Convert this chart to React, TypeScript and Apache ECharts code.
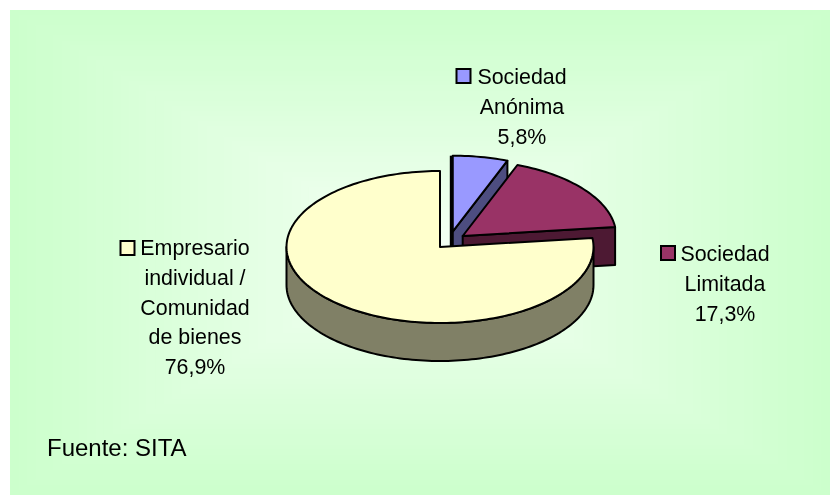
import React, { useEffect, useRef } from "react";
import * as echarts from "echarts";

const categories = ["Sociedad\nAnónima", "Sociedad\nLimitada", "Empresario\nindividual /\nComunidad\nde bienes"];
const values = [5.8, 17.3, 76.9];
const valueLabels = ["5,8%", "17,3%", "76,9%"];
const sourceNote = "Fuente: SITA";

const topColors = ["#9999ff", "#993366", "#ffffcc"];
const sideColors = ["#4d4d80", "#4d1933", "#808066"];
const pieCentres = [[452.7, 231.7], [462.7, 236], [440, 247]];
const labelCentres = [[522, 77], [725, 254], [195, 248]];
const keyBoxes = [[456.5, 69], [661, 246], [120.5, 241]];

const RX = 153.5, RY = 76, DEPTH = 38, LINE_H = 29.8, FONT = 21.4;
const FAMILY = '"Liberation Sans", Arial, sans-serif';

const W = 830, H = 495, PX = 10, PY = 10;

function backgroundRects() {
  const out: any[] = [];
  const steps = 48;
  const from = [204, 255, 204], to = [244, 255, 244];
  const cx = (PX + W) / 2, cy = (PY + H) / 2, hw = (W - PX) / 2, hh = (H - PY) / 2;
  for (let i = 0; i < steps; i++) {
    const k = 1 - i / steps;
    const t = i / (steps - 1);
    const c = from.map((a, j) => Math.round(a + (to[j] - a) * t));
    out.push({
      type: "rect", z: -10 + i * 0.01, silent: true,
      shape: { x: cx - hw * k, y: cy - hh * k, width: 2 * hw * k, height: 2 * hh * k },
      style: { fill: `rgb(${c.join(",")})` },
    });
  }
  return out;
}

function arcPoints(c: number[], a0: number, a1: number, dy: number) {
  const n = Math.max(2, Math.ceil(Math.abs(a1 - a0) / 1.5));
  const pts: number[][] = [];
  for (let i = 0; i <= n; i++) {
    const a = ((a0 + ((a1 - a0) * i) / n) * Math.PI) / 180;
    pts.push([c[0] + RX * Math.sin(a), c[1] - RY * Math.cos(a) + dy]);
  }
  return pts;
}

export default function App() {
  const ref = useRef<HTMLDivElement>(null);
  useEffect(() => {
    document.body.style.margin = "0";
    const chart = echarts.init(ref.current!, undefined, { renderer: "svg" });
    const total = values.reduce((a, b) => a + b, 0);
    const stroke = { stroke: "#000", lineWidth: 2, lineJoin: "round" as const };

    const renderItem = (params: any, api: any) => {
      const i = params.dataIndex;
      let before = 0;
      for (let k = 0; k < i; k++) before += values[k];
      const a0 = (before / total) * 360;
      const a1 = a0 + (api.value(0) / total) * 360;
      const c = pieCentres[i];
      const side = sideColors[i];
      const kids: any[] = [];

      // cut face along the slice's clockwise end (visible on the two back slices)
      if (i < 2) {
        const e = arcPoints(c, a1, a1, 0)[0];
        kids.push({
          type: "polygon",
          shape: { points: [c, e, [e[0], e[1] + DEPTH], [c[0], c[1] + DEPTH]] },
          style: { fill: side, ...stroke },
        });
      }
      // outer wall of the large slice (front half of the ellipse)
      if (i === 2) {
        const wallFrom = Math.max(a0, 90), wallTo = Math.min(a1, 270);
        const top = arcPoints(c, wallFrom, wallTo, 0);
        const bottom = arcPoints(c, wallTo, wallFrom, DEPTH);
        kids.push({ type: "polygon", shape: { points: [...top, ...bottom] }, style: { fill: side, ...stroke } });
      }
      // top face
      kids.push({
        type: "polygon",
        shape: { points: [c, ...arcPoints(c, a0, a1, 0)] },
        style: { fill: topColors[i], ...stroke },
      });
      if (i === 0) {
        const e = arcPoints(c, a0, a0, 0)[0];
        kids.push({
          type: "line",
          shape: { x1: e[0] - 1.2, y1: e[1], x2: c[0] - 1.2, y2: c[1] + 16 },
          style: { stroke: "#000", lineWidth: 3.4 },
        });
      }
      // legend key
      const kb = keyBoxes[i];
      kids.push({
        type: "rect",
        shape: { x: kb[0], y: kb[1], width: 14, height: 14 },
        style: { fill: topColors[i], stroke: "#000", lineWidth: 2 },
      });
      // label
      const lc = labelCentres[i];
      const lines = [...categories[i].split("\n"), valueLabels[i]];
      lines.forEach((t, li) => {
        kids.push({
          type: "text",
          style: {
            x: lc[0], y: lc[1] + li * LINE_H, text: t,
            fill: "#000", font: `${FONT}px ${FAMILY}`, textAlign: "center", textVerticalAlign: "middle",
          },
        });
      });
      return { type: "group", children: kids };
    };

    chart.setOption({
      animation: false,
      graphic: [
        ...backgroundRects(),
        {
          type: "text", z: 5, silent: true,
          style: { x: 47, y: 447, text: sourceNote, fill: "#000", font: `24px ${FAMILY}`, textAlign: "left", textVerticalAlign: "middle" },
        },
      ],
      series: [{
        type: "custom",
        coordinateSystem: "none",
        silent: true,
        data: values.map((v) => [v]),
        renderItem,
      }],
    });
    return () => chart.dispose();
  }, []);
  return <div ref={ref} style={{ position: "fixed", left: 0, top: 0, width: W, height: H }} />;
}
